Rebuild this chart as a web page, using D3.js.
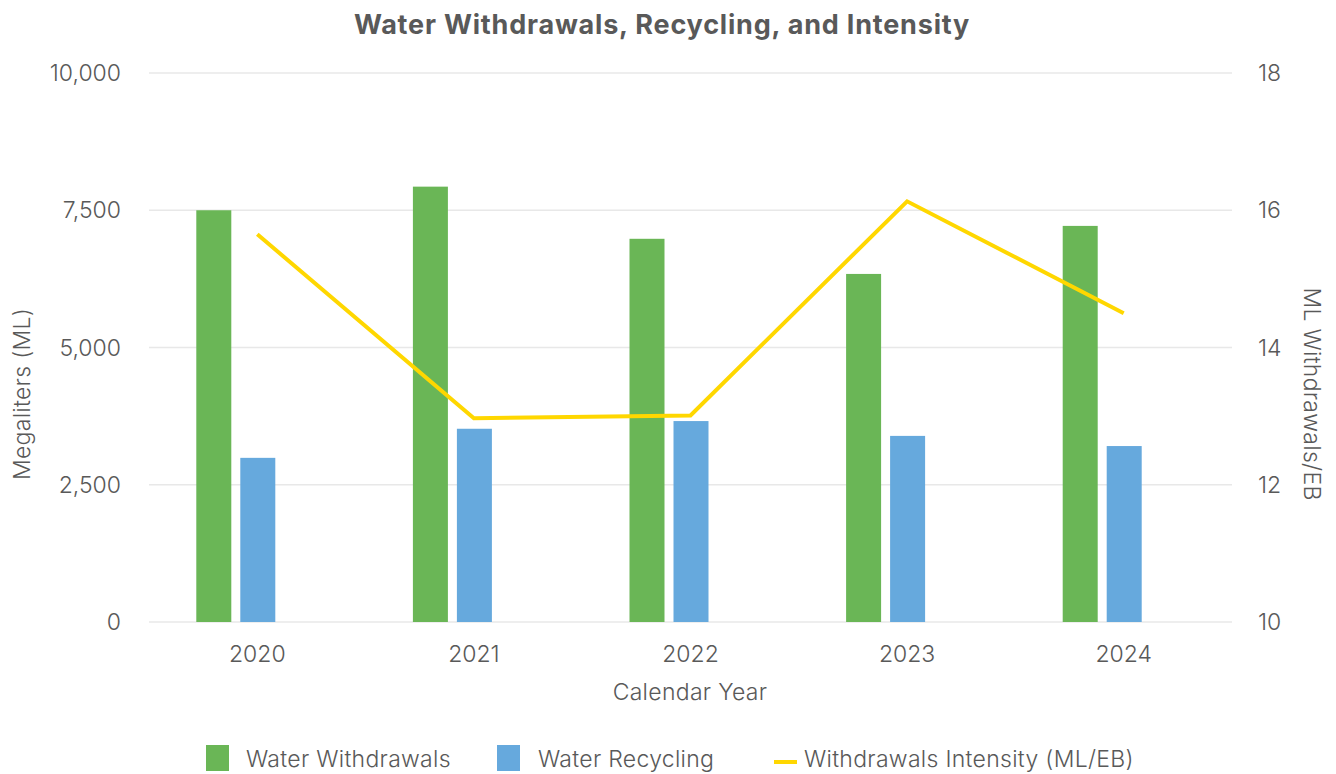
<!DOCTYPE html>
<html><head><meta charset="utf-8">
<script src="https://cdn.jsdelivr.net/npm/d3@7"></script>
<style>body{margin:0;background:#fff;} text{font-family:Inter,"Open Sans",sans-serif;}</style>
</head><body>
<svg id="c" width="1336" height="774"></svg>
<script>
const years = ["2020","2021","2022","2023","2024"];
const withdrawals = [7500, 7930, 6980, 6340, 7215];
const recycling = [2990, 3520, 3660, 3390, 3205];
const intensity = [15.65, 12.97, 13.01, 16.13, 14.50];
const leftTicks = [0, 2500, 5000, 7500, 10000];
const rightTicks = [10, 12, 14, 16, 18];

const svg = d3.select("#c");
const L = 149, R = 1232, T = 73, B = 622;
const x = d3.scaleBand().domain(years).range([L, R]);
const yL = d3.scaleLinear().domain([0, 10000]).range([B, T]);
const yR = d3.scaleLinear().domain([10, 18]).range([B, T]);
const txt = "#595959";
const fs = 23, fw = 300, ls = 0.3;

// gridlines
svg.append("g").selectAll("line").data(leftTicks).join("line")
  .attr("x1", L).attr("x2", R).attr("y1", d => yL(d)).attr("y2", d => yL(d))
  .attr("stroke", "#e8e8e8").attr("stroke-width", 1.5);

// left axis labels
svg.append("g").selectAll("text").data(leftTicks).join("text")
  .attr("x", 121).attr("y", d => yL(d)).attr("dy", "0.35em")
  .attr("text-anchor", "end").attr("fill", txt).attr("font-size", fs).attr("font-weight", fw)
  .text(d => d3.format(",")(d));
// right axis labels
svg.append("g").selectAll("text").data(rightTicks).join("text")
  .attr("x", 1258).attr("y", d => yR(d)).attr("dy", "0.35em")
  .attr("text-anchor", "start").attr("fill", txt).attr("font-size", fs).attr("font-weight", fw)
  .text(d => d);
// x labels
svg.append("g").selectAll("text").data(years).join("text")
  .attr("x", d => x(d) + x.bandwidth()/2).attr("y", 654).attr("dy", "0.35em")
  .attr("text-anchor", "middle").attr("fill", txt).attr("font-size", fs).attr("font-weight", fw)
  .text(d => d);

const bw = 35;
// bars
svg.append("g").selectAll("rect").data(years).join("rect")
  .attr("x", (d) => x(d) + x.bandwidth()/2 - 61).attr("width", bw)
  .attr("y", (d,i) => yL(withdrawals[i])).attr("height", (d,i) => B - yL(withdrawals[i]))
  .attr("fill", "#6ab656");
svg.append("g").selectAll("rect").data(years).join("rect")
  .attr("x", (d) => x(d) + x.bandwidth()/2 - 17).attr("width", bw)
  .attr("y", (d,i) => yL(recycling[i])).attr("height", (d,i) => B - yL(recycling[i]))
  .attr("fill", "#66a9dd");

// line
const line = d3.line().x((d,i) => x(years[i]) + x.bandwidth()/2).y(d => yR(d));
svg.append("path").datum(intensity).attr("d", line)
  .attr("fill", "none").attr("stroke", "#ffd700").attr("stroke-width", 4)
  .attr("stroke-linejoin", "miter");

// title
svg.append("text").attr("x", 662).attr("y", 25).attr("dy", "0.35em")
  .attr("text-anchor", "middle").attr("font-size", 27).attr("font-weight", 700)
  .attr("letter-spacing", 0.8)
  .attr("fill", txt).text("Water Withdrawals, Recycling, and Intensity");

// axis titles
svg.append("text").attr("transform", "translate(22,394) rotate(-90)").attr("dy", "0.35em")
  .attr("text-anchor", "middle").attr("font-size", fs).attr("font-weight", fw).attr("letter-spacing", ls).attr("fill", txt).text("Megaliters (ML)");
svg.append("text").attr("transform", "translate(1312,394) rotate(90)").attr("dy", "0.35em")
  .attr("text-anchor", "middle").attr("font-size", fs).attr("font-weight", fw).attr("letter-spacing", ls).attr("fill", txt).text("ML Withdrawals/EB");
svg.append("text").attr("x", 690).attr("y", 692).attr("dy", "0.35em")
  .attr("text-anchor", "middle").attr("font-size", fs).attr("font-weight", fw).attr("letter-spacing", ls).attr("fill", txt).text("Calendar Year");

// legend
const lg = svg.append("g");
const ly = 759;
lg.append("rect").attr("x", 206).attr("y", 745).attr("width", 23).attr("height", 26).attr("fill", "#6ab656");
lg.append("text").attr("x", 246).attr("y", ly).attr("dy", "0.35em").attr("font-size", fs).attr("font-weight", fw).attr("letter-spacing", ls).attr("fill", txt).text("Water Withdrawals");
lg.append("rect").attr("x", 497).attr("y", 745).attr("width", 23).attr("height", 26).attr("fill", "#66a9dd");
lg.append("text").attr("x", 538).attr("y", ly).attr("dy", "0.35em").attr("font-size", fs).attr("font-weight", fw).attr("letter-spacing", ls).attr("fill", txt).text("Water Recycling");
lg.append("line").attr("x1", 774).attr("x2", 797).attr("y1", 762).attr("y2", 762).attr("stroke", "#ffd700").attr("stroke-width", 4);
lg.append("text").attr("x", 804).attr("y", ly).attr("dy", "0.35em").attr("font-size", fs).attr("font-weight", fw).attr("letter-spacing", ls).attr("fill", txt).text("Withdrawals Intensity (ML/EB)");
</script>
</body></html>
